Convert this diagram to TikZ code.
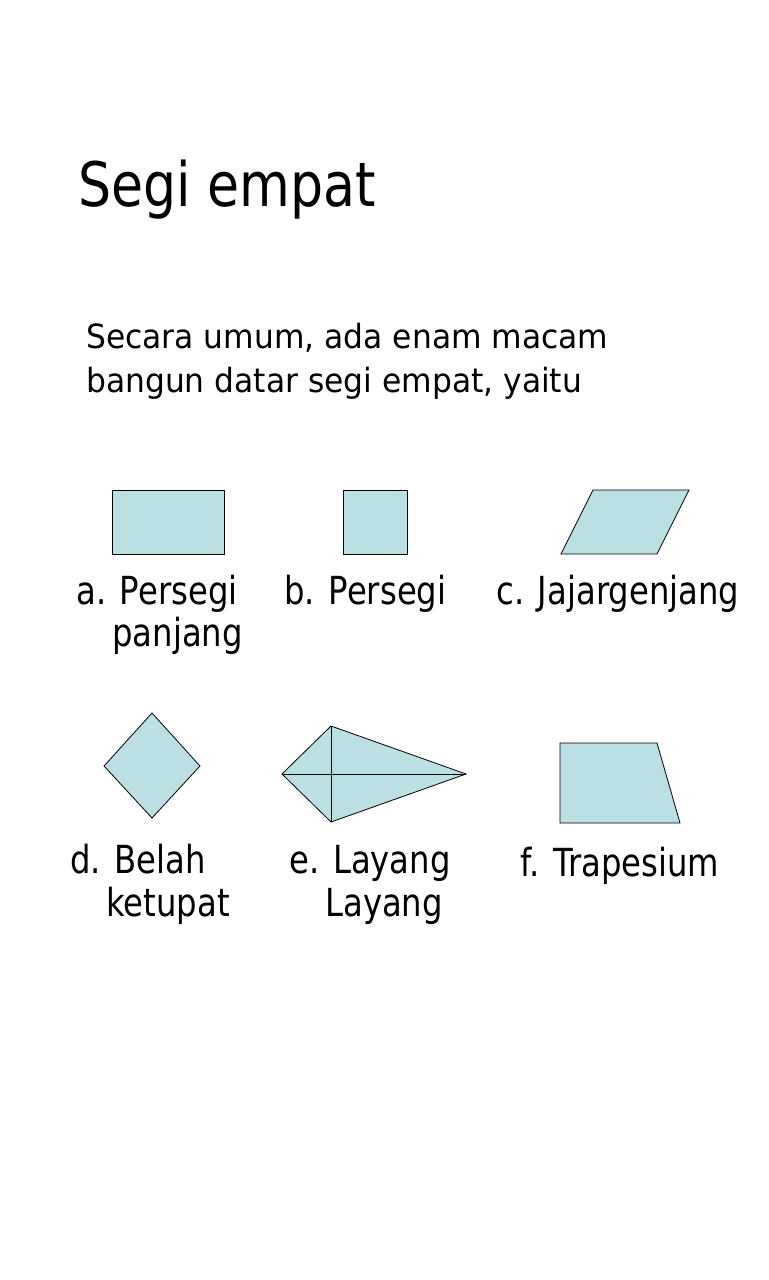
\documentclass[tikz,border=0pt]{standalone}
\usepackage{fontspec}
\setmainfont{DejaVu Sans}
\newfontfamily\titleFont[FakeStretch=0.85]{DejaVu Sans}
\newfontfamily\bodyFont[FakeStretch=0.94]{DejaVu Sans}
\newfontfamily\labelFont[FakeStretch=0.835]{DejaVu Sans}
\usetikzlibrary{positioning}
\definecolor{shapeFill}{RGB}{187,224,227}

\begin{document}
\begin{tikzpicture}[
        x=0.75pt, y=-0.75pt,
        quad/.style={draw, fill=shapeFill, line width=0.6pt, line join=miter},
        title text/.style={anchor=base west, inner sep=0, font=\titleFont\fontsize{46}{56}\selectfont},
        body text/.style={anchor=base west, inner sep=0, font=\bodyFont\fontsize{25}{33}\selectfont},
        label text/.style={anchor=base west, inner sep=0, font=\labelFont\fontsize{29}{32}\selectfont},
    ]
    \useasboundingbox (0,0) rectangle (768,1280);

    % Title and introduction
    \node[title text] (title) at (78,207) {Segi empat};
    \node[body text] (intro 1) at (86,348) {Secara umum, ada enam macam};
    \node[body text] (intro 2) at (86,392) {bangun datar segi empat, yaitu};

    % First row of shapes
    \draw[quad] (112,490) rectangle (224,554);
    \draw[quad] (343,490) rectangle (407,554);
    \draw[quad] (593,490) -- (689,490) -- (657,554) -- (561,554) -- cycle;

    % Second row of shapes
    \draw[quad] (152,713) -- (200,766) -- (152,818) -- (104,766) -- cycle;
    \coordinate (kite left) at (282,774);
    \coordinate (kite top) at (331,726);
    \coordinate (kite right) at (466,774);
    \coordinate (kite bottom) at (331,822);
    \draw[quad] (kite left) -- (kite top) -- (kite right) -- (kite bottom) -- cycle;
    \draw (kite left) -- (kite right) (kite top) -- (kite bottom);
    \draw[quad] (560,743) -- (657,743) -- (680,823) -- (560,823) -- cycle;

    % Labels
    \foreach \x/\y/\name/\txt in {
        76/604/a1/a. Persegi, 112/646/a2/panjang,
        284/604/b1/b. Persegi,
        496/604/c1/c. Jajargenjang,
        70/873/d1/d. Belah, 106/916/d2/ketupat,
        289/873/e1/e. Layang, 325/916/e2/Layang,
        520/876/f1/f. Trapesium} {
        \node[label text] (label \name) at (\x,\y) {\txt};
    }
\end{tikzpicture}
\end{document}
